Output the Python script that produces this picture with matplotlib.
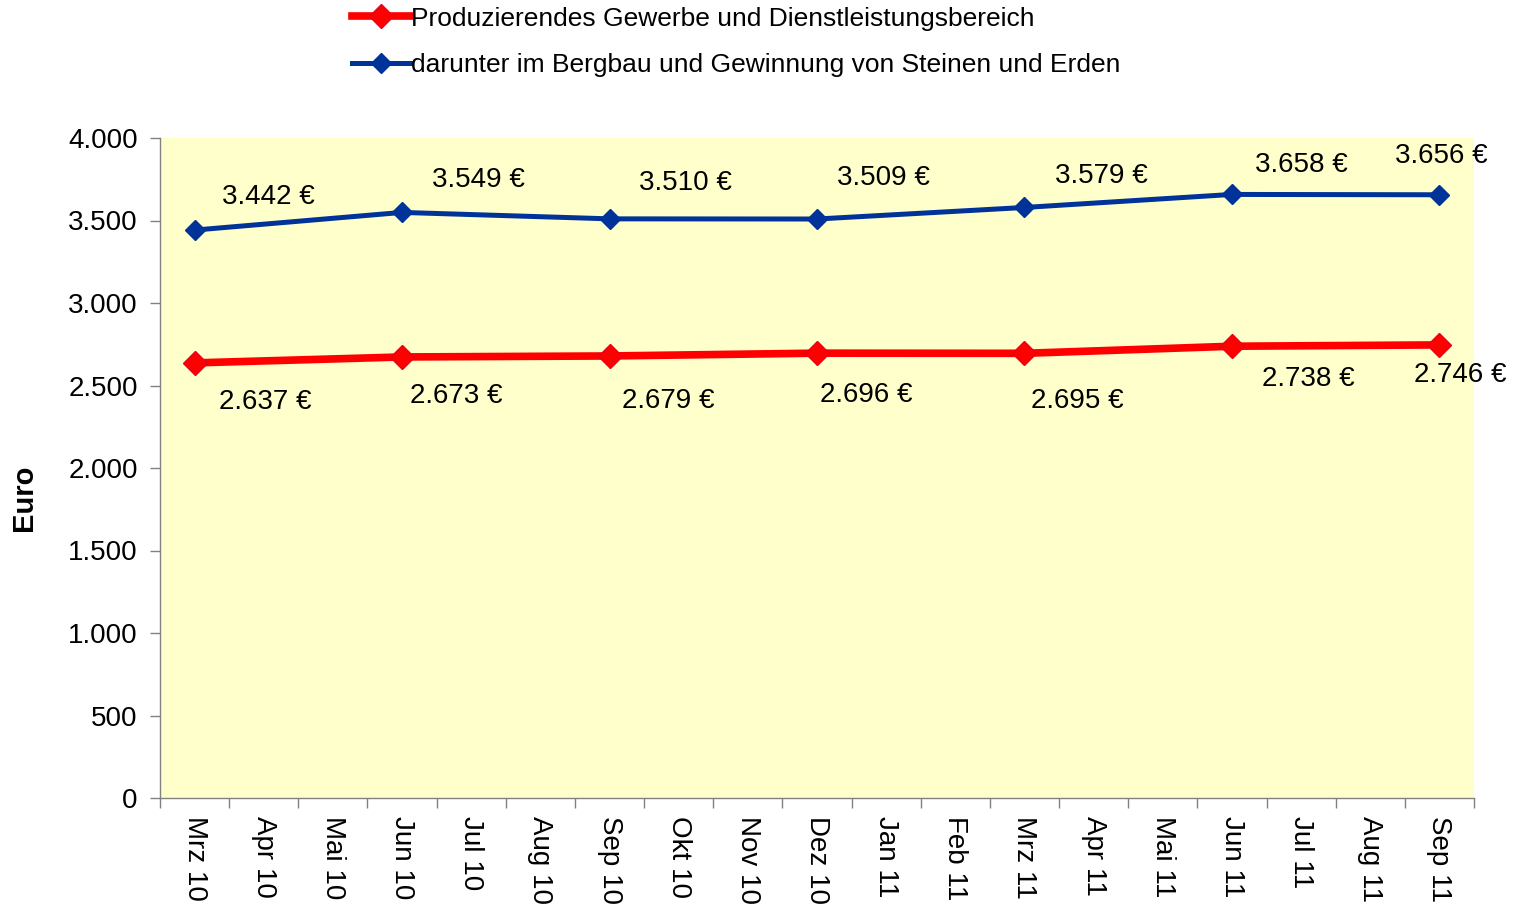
import matplotlib
matplotlib.use("Agg")
import matplotlib.pyplot as plt
from matplotlib.ticker import FuncFormatter, FixedLocator

plt.rcParams['font.family'] = ['Liberation Sans', 'DejaVu Sans']

months = ["Mrz 10", "Apr 10", "Mai 10", "Jun 10", "Jul 10", "Aug 10", "Sep 10",
          "Okt 10", "Nov 10", "Dez 10", "Jan 11", "Feb 11", "Mrz 11", "Apr 11",
          "Mai 11", "Jun 11", "Jul 11", "Aug 11", "Sep 11"]
data_months = ["Mrz 10", "Jun 10", "Sep 10", "Dez 10", "Mrz 11", "Jun 11", "Sep 11"]
produz = [2637, 2673, 2679, 2696, 2695, 2738, 2746]
bergbau = [3442, 3549, 3510, 3509, 3579, 3658, 3656]
series_names = ["Produzierendes Gewerbe und Dienstleistungsbereich",
                "darunter im Bergbau und Gewinnung von Steinen und Erden"]
yticks = [0, 500, 1000, 1500, 2000, 2500, 3000, 3500, 4000]

# label offsets in pixels (layout only)
red_off = [(71, -39), (54, -39), (59, -45), (49, -42), (53, -48), (76, -33), (21, -30)]
blue_off = [(74, 33), (76, 32), (76, 36), (66, 41), (77, 31), (69, 29), (2, 39)]

FS = 20

fig = plt.figure(figsize=(15.2, 9.1), dpi=100)
ax = fig.add_axes([160/1520, 1-798/910, 1314/1520, 660/910])
ax.set_facecolor("#FFFFCC")

xi = [months.index(m) for m in data_months]
l1, = ax.plot(xi, produz, color="#FF0000", lw=5.5, marker="D", ms=12, mec="#E8001C", zorder=3)
l2, = ax.plot(xi, bergbau, color="#003399", lw=3.6, marker="D", ms=10.5, zorder=3)

def fmt(v):
    return f"{v:,}".replace(",", ".") + " €"

for x, v, o in zip(xi, produz, red_off):
    ax.annotate(fmt(v), (x, v), xytext=(o[0]*0.72, o[1]*0.72), textcoords="offset points",
                ha="center", va="center", fontsize=FS, annotation_clip=False)
for x, v, o in zip(xi, bergbau, blue_off):
    ax.annotate(fmt(v), (x, v), xytext=(o[0]*0.72, o[1]*0.72), textcoords="offset points",
                ha="center", va="center", fontsize=FS, annotation_clip=False)

ax.set_xlim(-0.5, len(months) - 0.5)
ax.set_ylim(0, 4000)
ax.yaxis.set_major_locator(FixedLocator(yticks))
ax.yaxis.set_major_formatter(FuncFormatter(lambda v, p: f"{int(v):,}".replace(",", ".")))
ax.set_xticks([i - 0.5 for i in range(len(months) + 1)])
ax.set_xticklabels([])
ax.set_xticks(range(len(months)), minor=True)
ax.set_xticklabels(months, minor=True, rotation=270, fontsize=FS, va="top", ha="center")
ax.tick_params(axis="x", which="minor", length=0, pad=13)
ax.tick_params(axis="x", which="major", length=7, width=1, color="#808080", direction="out")
ax.tick_params(axis="y", length=7, width=1, color="#808080", labelsize=FS, pad=9)
for s in ["top", "right"]:
    ax.spines[s].set_visible(False)
for s in ["left", "bottom"]:
    ax.spines[s].set_color("#808080")
    ax.spines[s].set_linewidth(1)
ax.set_ylabel("Euro", fontsize=21, fontweight="bold")
ax.yaxis.set_label_coords((38 - 160) / 1314, (798 - 498) / 660)

fig.legend([l1, l2], series_names, loc="upper left", bbox_to_anchor=(341/1520, 1 + 4/910),
           frameon=False, fontsize=19, handlelength=2.25, handletextpad=0.0,
           labelspacing=0.86, borderaxespad=0)

fig.savefig("out.png", dpi=100)
